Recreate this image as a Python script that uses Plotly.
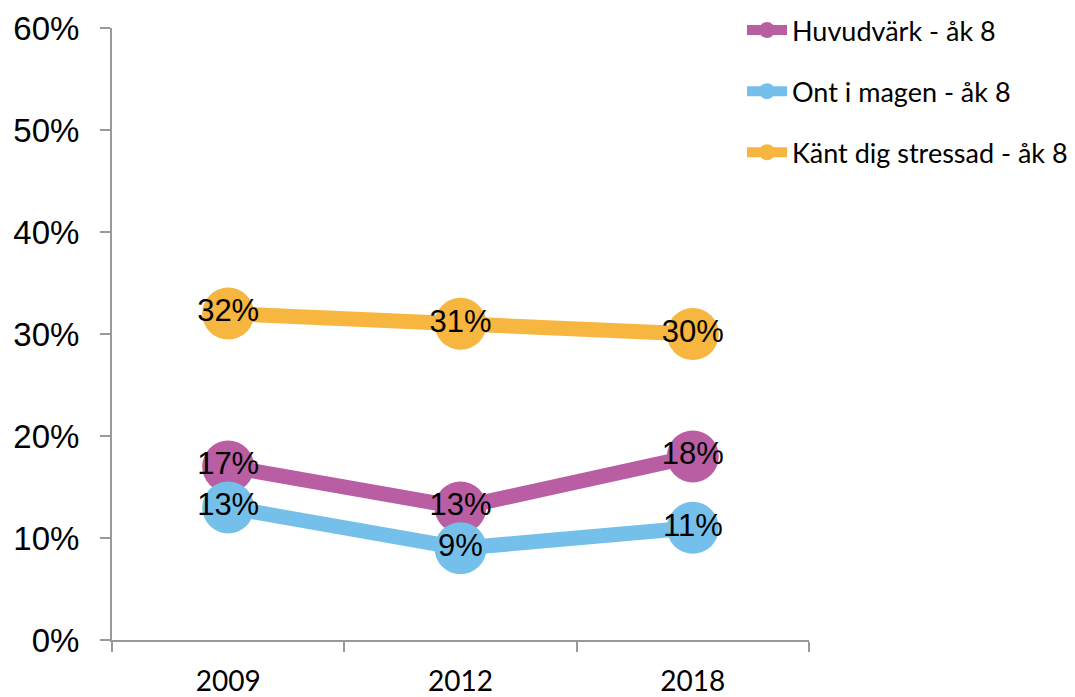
import plotly.graph_objects as go

years = ["2009", "2012", "2018"]
huvudvark = [17, 13, 18]
ont_i_magen = [13, 9, 11]
stressad = [32, 31, 30]

series_names = ["Huvudvärk - åk 8", "Ont i magen - åk 8", "Känt dig stressad - åk 8"]
series_values = [huvudvark, ont_i_magen, stressad]
series_colors = ["#B95EA3", "#75C0EA", "#F6B63F"]

y_ticks = [0, 10, 20, 30, 40, 50, 60]
y_tick_labels = ["0%", "10%", "20%", "30%", "40%", "50%", "60%"]

fig = go.Figure()
for i, (name, vals, color) in enumerate(zip(series_names, series_values, series_colors)):
    fig.add_trace(go.Scatter(
        x=years,
        y=vals,
        name=name,
        legendgroup=f"g{i}",
        mode="lines+markers+text",
        line=dict(color=color, width=15),
        marker=dict(color=color, size=52),
        text=[f"{v}%" for v in vals],
        textposition="middle center",
        textfont=dict(family="Liberation Sans, Arial, sans-serif", size=31, color="#000000"),
        cliponaxis=False,
    ))

axis_gray = "#999999"
fig.update_layout(
    width=1075,
    height=697,
    margin=dict(l=112, r=266, t=28, b=57, autoexpand=False),
    paper_bgcolor="white",
    plot_bgcolor="white",
    showlegend=True,
    legend=dict(
        xref="container", yref="container",
        x=742 / 1075, xanchor="left",
        y=1 - 6 / 697, yanchor="top",
        traceorder="grouped",
        tracegroupgap=23,
        itemwidth=40,
        font=dict(family="Lato, Carlito, sans-serif", size=27, color="#000000"),
        bgcolor="rgba(0,0,0,0)",
    ),
    xaxis=dict(
        type="category",
        range=[-0.5, 2.5],
        automargin=False,
        showline=True, linecolor=axis_gray, linewidth=2,
        showgrid=False, zeroline=False,
        ticks="outside", tickson="boundaries", ticklen=10, tickcolor=axis_gray, tickwidth=2,
        ticklabelstandoff=15,
        tickfont=dict(family="Lato, Carlito, sans-serif", size=28, color="#000000"),
    ),
    yaxis=dict(
        range=[0, 60],
        automargin=False,
        tickvals=y_ticks,
        ticktext=y_tick_labels,
        showline=True, linecolor=axis_gray, linewidth=2,
        showgrid=False, zeroline=False,
        ticks="outside", ticklen=10, tickcolor=axis_gray, tickwidth=2,
        ticklabelstandoff=14,
        tickfont=dict(family="Liberation Sans, Arial, sans-serif", size=33, color="#000000"),
    ),
)

fig.write_html("out.html")
